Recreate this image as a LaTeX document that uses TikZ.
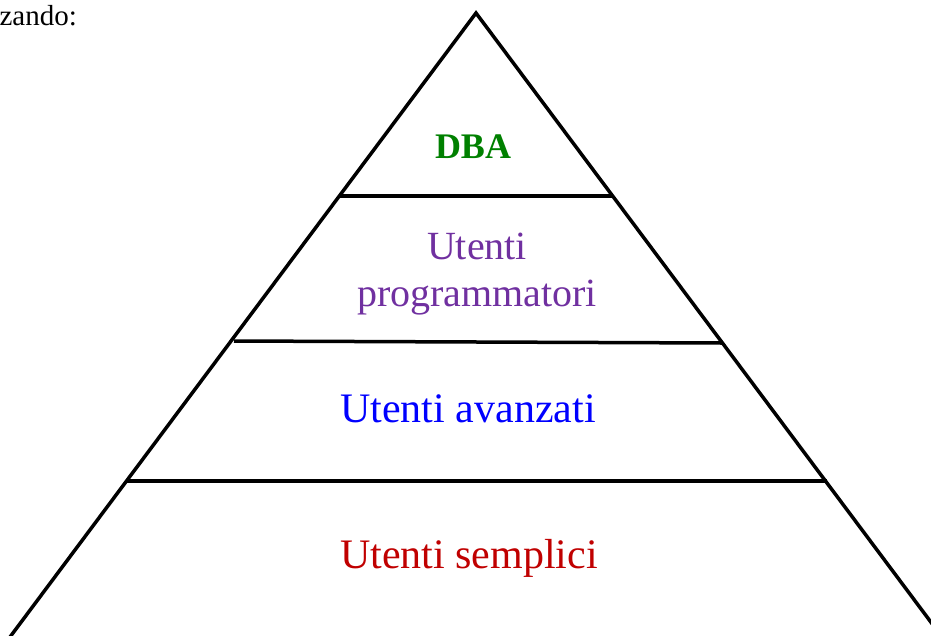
\documentclass[tikz,border=0pt]{standalone}
\usepackage{fontspec}
\setmainfont{Liberation Serif}
\definecolor{dbagreen}{RGB}{0,128,0}
\definecolor{progpurple}{RGB}{112,48,160}
\definecolor{advblue}{RGB}{0,0,255}
\definecolor{simpred}{RGB}{192,0,0}
\begin{document}
\begin{tikzpicture}[x=1pt,y=-1pt,
  edge/.style={line width=3.5pt,line cap=butt,line join=miter},
  label/.style={inner sep=0pt,align=center,font=\fontsize{40}{48}\selectfont}]
\useasboundingbox (0,0) rectangle (931,635);
\clip (0,0) rectangle (931,635);
\node[anchor=base east,inner sep=0pt,font=\fontsize{29}{32}\selectfont] (intro) at (77,25) {zando:};
% triangle
\coordinate (apex) at (476,13);
\coordinate (bl) at (10,637);
\coordinate (br) at (942,637);
\draw[edge] (bl) -- (apex) -- (br);
% layer lines
\coordinate (l1a) at (340,196); \coordinate (l1b) at (612,196);
\coordinate (l2a) at (234,341); \coordinate (l2b) at (722,343);
\coordinate (l3a) at (126,481); \coordinate (l3b) at (827,481);
\draw[edge] (l1a) -- (l1b);
\draw[edge] (l2a) -- (l2b);
\draw[edge] (l3a) -- (l3b);
% texts
\node[label,anchor=base,text=dbagreen,font=\fontsize{36}{40}\selectfont\bfseries] (dba) at (473,158) {DBA};
\node[label,anchor=base,text=progpurple] (prog1) at (477,259) {Utenti};
\node[label,anchor=base,text=progpurple] (prog2) at (477,306) {programmatori};
\node[label,anchor=base,text=advblue,font=\fontsize{42}{48}\selectfont] (adv) at (468,422) {Utenti avanzati};
\node[label,anchor=base,text=simpred,font=\fontsize{42}{48}\selectfont] (simp) at (469,568) {Utenti semplici};
\end{tikzpicture}
\end{document}
